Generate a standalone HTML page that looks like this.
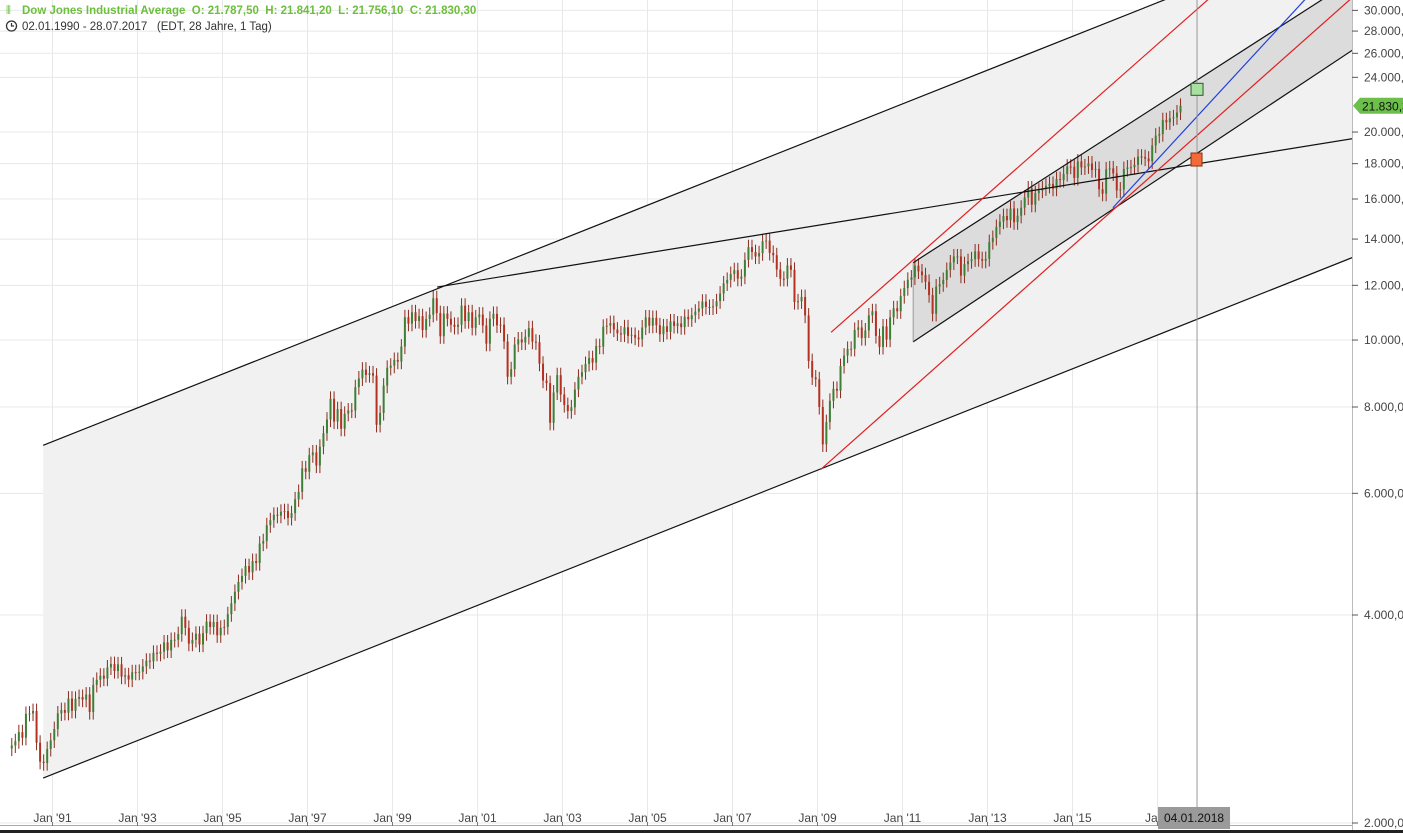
<!DOCTYPE html>
<html><head><meta charset="utf-8">
<style>
html,body{margin:0;padding:0;background:#fff;}
svg{display:block;font-family:"Liberation Sans",Arial,sans-serif;}
text{white-space:pre;}
</style></head>
<body>
<svg id="chart" width="1403" height="833" viewBox="0 0 1403 833" xmlns="http://www.w3.org/2000/svg">
<defs><clipPath id="plot"><rect x="0" y="0" width="1352" height="826"/></clipPath></defs>
<rect x="0" y="0" width="1403" height="833" fill="#fff"/>
<g id="grid"></g>
<g id="shades" clip-path="url(#plot)"></g>
<g id="candles"></g>
<g id="lines" clip-path="url(#plot)"></g>
<g id="yaxis"></g>
<g id="xaxis"></g>
<g>
  <text x="6" y="14" font-size="11.5" fill="#6cbf3c">&#x2AF4;</text>
  <text x="22" y="14" font-size="11.5" font-weight="bold" fill="#6cbf3c" xml:space="preserve">Dow Jones Industrial Average  O: 21.787,50  H: 21.841,20  L: 21.756,10  C: 21.830,30</text>
  <circle cx="11.5" cy="26" r="5" fill="none" stroke="#333" stroke-width="1.3"/>
  <path d="M11.5 23 V26 H14" fill="none" stroke="#333" stroke-width="1.2"/>
  <text x="22" y="30" font-size="11.5" fill="#333" xml:space="preserve">02.01.1990 - 28.07.2017   (EDT, 28 Jahre, 1 Tag)</text>
</g>
</svg>
<script>
const monthlyCloses = [
2590,2627,2707,2657,2877,2881,2905,2614,2453,2442,2560,2634,
2736,2882,2914,2888,3028,2907,3025,3044,3017,3069,2895,3169,
3223,3268,3236,3359,3397,3319,3394,3257,3272,3226,3306,3301,
3310,3370,3435,3428,3527,3516,3540,3651,3555,3681,3684,3754,
3978,3832,3636,3682,3758,3625,3765,3913,3843,3908,3739,3834,
3844,4011,4158,4321,4465,4556,4709,4611,4789,4756,5075,5117,
5395,5486,5587,5569,5643,5655,5529,5616,5882,6029,6522,6448,
6813,6877,6583,7009,7331,7673,8223,7622,7945,7442,7823,7908,
7907,8546,8800,9063,8900,8952,8883,7539,7843,8592,9117,9181,
9359,9307,9786,10789,10560,10971,10655,10829,10337,10730,10878,11497,
10941,10128,10922,10734,10522,10448,10522,11215,10651,10971,10415,10787,
10887,10495,9879,10735,10912,10502,10523,9950,8848,9075,9852,10022,
9920,10106,10404,9946,9925,9243,8737,8664,7592,8397,8896,8342,
8054,7891,7992,8480,8850,8985,9234,9416,9275,9801,9782,10454,
10488,10584,10358,10226,10188,10435,10140,10174,10080,10027,10428,10783,
10490,10766,10504,10193,10467,10275,10641,10482,10569,10440,10806,10718,
10865,10993,11109,11367,11168,11150,11186,11381,11679,12081,12221,12463,
12622,12269,12354,13063,13628,13409,13212,13358,13896,13930,13372,13265,
12650,12266,12263,12820,12638,11350,11378,11544,10851,9325,8829,8776,
8001,7063,7609,8168,8500,8447,9172,9496,9712,9713,10345,10428,
10067,10325,10857,11009,10137,9774,10466,10015,10788,11118,11006,11578,
11892,12226,12320,12811,12570,12414,12143,11614,10913,11955,12046,12218,
12633,12952,13212,13214,12393,12880,13009,13091,13437,13096,13026,13104,
13861,14054,14579,14840,15116,14910,15500,14810,15130,15546,16086,16577,
15699,16322,16458,16581,16717,16827,16563,17098,17043,17391,17828,17823,
17165,18133,17776,17841,18011,17620,17690,16528,16285,17664,17720,17425,
16466,16517,17685,17774,17787,17930,18432,18401,18308,18142,19124,19763,
19864,20812,20663,20940,21009,21350,21830];
const startYear = 1990;
const yTicks = [2000,4000,6000,8000,10000,12000,14000,16000,18000,20000,24000,26000,28000,30000];
const yTickLabels = ["2.000,0","4.000,0","6.000,0","8.000,0","10.000,0","12.000,0","14.000,0","16.000,0","18.000,0","20.000,0","24.000,0","26.000,0","28.000,0","30.000,0"];
const xTickYears = [1991,1993,1995,1997,1999,2001,2003,2005,2007,2009,2011,2013,2015,2017];
const xTickLabels = ["Jan '91","Jan '93","Jan '95","Jan '97","Jan '99","Jan '01","Jan '03","Jan '05","Jan '07","Jan '09","Jan '11","Jan '13","Jan '15","Jan '"];
const bigUpper = [1990.78,7040,2017.18,31100];
const bigLower = [1990.78,2323,2021.58,13160];
const peakLine = [2000.05,11930,2021.58,19560];
const innerUpper = [2011.25,12940,2017.93,23780];
const innerLower = [2011.25,9940,2021.58,26260];
const redUpper = [2009.32,10260,2018.19,31100];
const redLower = [2009.08,6500,2021.53,31100];
const blueLine = [2015.95,15540,2020.47,31100];
const cursorDate = 2017.93;
const greenMark = 23060, orangeMark = 18280, lastPrice = 21830;

const NS="http://www.w3.org/2000/svg";
const X = t => 10 + (t-1990)*42.5;
const Y = v => 823 - 208*Math.log2(v/2000);
const T_END = 2022.5;
function mk(tag, attrs, parent){const e=document.createElementNS(NS,tag);for(const k in attrs)e.setAttribute(k,attrs[k]);parent.appendChild(e);return e;}
function lineAt(l,t){const [t1,v1,t2,v2]=l;const a=Math.log(v1),b=Math.log(v2);return Math.exp(a+(b-a)*(t-t1)/(t2-t1));}

const grid=document.getElementById('grid');
yTicks.forEach(v=>{const e=mk('line',{x1:0,x2:1352,y1:Y(v),y2:Y(v),stroke:'#e8e8e8','stroke-width':1},grid);

});
xTickYears.forEach(t=>{const e=mk('line',{x1:X(t),x2:X(t),y1:0,y2:826,stroke:'#e8e8e8','stroke-width':1},grid);

});

const sh=document.getElementById('shades');
function poly(up,lo,t0,col,name){let pts=[];const n=40;for(let i=0;i<=n;i++){const t=t0+(T_END-t0)*i/n;pts.push(X(t)+','+Y(lineAt(up,t)));}
for(let i=n;i>=0;i--){const t=t0+(T_END-t0)*i/n;pts.push(X(t)+','+Y(lineAt(lo,t)));}
const e=mk('polygon',{points:pts.join(' '),fill:col},sh);

}
poly(bigUpper,bigLower,bigUpper[0],'#f1f1f1','outer-channel-fill');
poly(innerUpper,innerLower,innerUpper[0],'#dcdcdc','inner-channel-fill');

const cg=document.getElementById('candles');
let prev=monthlyCloses[0]*0.99;
monthlyCloses.forEach((c,i)=>{const t=startYear+i/12+1/24;const x=X(t);const o=prev;const up=c>=o;
const hi=Math.max(o,c)*1.025, lo=Math.min(o,c)*0.975;
const w=mk('line',{x1:x,x2:x,y1:Y(hi),y2:Y(lo),stroke:'#8a2a1c','stroke-width':1},cg);


const yt=Y(Math.max(o,c)),yb=Y(Math.min(o,c));
const b=mk('rect',{x:x-1,y:yt,width:2,height:Math.max(1,yb-yt),fill:up?'#3f7f35':'#b5301f'},cg);


prev=c;});

const lg=document.getElementById('lines');
function drawLine(l,t0,col,name,w){const e=mk('line',{x1:X(t0),y1:Y(lineAt(l,t0)),x2:X(T_END),y2:Y(lineAt(l,T_END)),stroke:col,'stroke-width':w||1.2},lg);

}
drawLine(bigUpper,bigUpper[0],'#111','outer-channel-upper');
drawLine(bigLower,bigLower[0],'#111','outer-channel-lower');
drawLine(peakLine,peakLine[0],'#111','peak-trendline');
drawLine(innerUpper,innerUpper[0],'#111','inner-channel-upper');
drawLine(innerLower,innerLower[0],'#111','inner-channel-lower');
drawLine(redUpper,redUpper[0],'#e02020','red-channel-upper');
drawLine(redLower,redLower[0],'#e02020','red-channel-lower');
drawLine(blueLine,blueLine[0],'#2040e0','blue-trendline');
const ie=mk('line',{x1:X(innerUpper[0]),x2:X(innerUpper[0]),y1:Y(innerUpper[1]),y2:Y(innerLower[1]),stroke:'#888','stroke-width':0.8},lg);


const cx=X(cursorDate);
const cl=mk('line',{x1:cx,x2:cx,y1:0,y2:826,stroke:'#999','stroke-width':1},lg);


const gm=mk('rect',{x:cx-6,y:Y(greenMark)-6,width:12,height:12,fill:'#a8e0a0',stroke:'#2a5a2a','stroke-width':1},lg);


const om=mk('rect',{x:cx-6,y:Y(orangeMark)-6,width:11,height:13,fill:'#f26a3a',stroke:'#8a3010','stroke-width':1},lg);



const ya=document.getElementById('yaxis');
mk('rect',{x:1352,y:0,width:51,height:833,fill:'#fff'},ya);
mk('line',{x1:1352.5,x2:1352.5,y1:0,y2:833,stroke:'#bbb'},ya);
yTicks.forEach((v,i)=>{const y=Y(v);mk('line',{x1:1352,x2:1358,y1:y,y2:y,stroke:'#555'},ya);
const t=mk('text',{x:1364,y:y+4,'font-size':12,fill:'#444'},ya);t.textContent=yTickLabels[i];

});
const py=Y(lastPrice);
const pl=mk('path',{d:`M1353 ${py} L1360 ${py-8} H1403 V${py+8} H1360 Z`,fill:'#6cc04a'},ya);


const pt=mk('text',{x:1362,y:py+4.5,'font-size':12,fill:'#111'},ya);pt.textContent='21.830,3';

const xa=document.getElementById('xaxis');
mk('line',{x1:0,x2:1352,y1:825.5,y2:825.5,stroke:'#aaa'},xa);
mk('rect',{x:0,y:830,width:1403,height:3,fill:'#222'},xa);
xTickYears.forEach((t,i)=>{const x=X(t);mk('line',{x1:x,x2:x,y1:822,y2:826,stroke:'#777'},xa);
const e=mk('text',{x:x,y:822,'font-size':12,fill:'#444','text-anchor':'middle'},xa);e.textContent=xTickLabels[i];

});
const db=mk('rect',{x:cx-39,y:807,width:72,height:22,fill:'#9a9a9a'},xa);


const dt=mk('text',{x:cx-3,y:822,'font-size':12,fill:'#111','text-anchor':'middle'},xa);dt.textContent='04.01.2018';
</script>
</body></html>
